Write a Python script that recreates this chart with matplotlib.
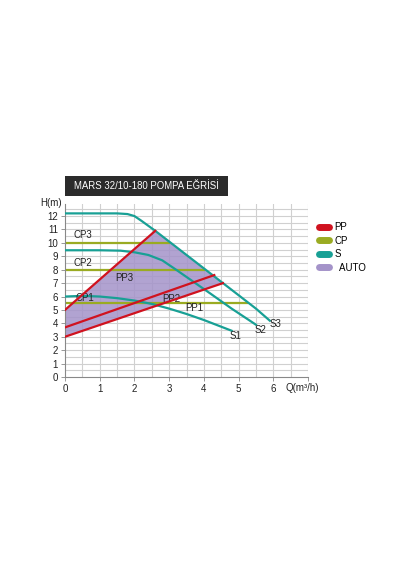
import matplotlib
matplotlib.use("Agg")
import matplotlib.pyplot as plt
from matplotlib.patches import Rectangle, Polygon
from matplotlib.lines import Line2D
import numpy as np

plt.rcParams['font.family'] = ['Liberation Sans', 'DejaVu Sans']

# Data
s3_x = [0, 0.5, 1.0, 1.5, 1.8, 2.0, 2.2, 2.6, 3.0, 3.5, 4.0, 4.55, 5.0, 5.5, 5.9]
s3_y = [12.2, 12.2, 12.2, 12.2, 12.15, 12.0, 11.65, 10.9, 10.1, 9.1, 8.1, 7.0, 6.1, 5.1, 4.2]
s2_x = [0, 1.0, 1.6, 2.0, 2.4, 2.8, 3.2, 3.7, 4.2, 4.8, 5.5]
s2_y = [9.45, 9.45, 9.42, 9.3, 9.1, 8.7, 8.0, 7.1, 6.2, 5.1, 3.9]
s1_x = [0, 0.5, 1.0, 1.5, 2.0, 2.5, 3.0, 3.5, 4.0, 4.8]
s1_y = [6.0, 6.05, 6.0, 5.88, 5.7, 5.45, 5.1, 4.7, 4.25, 3.45]
pp_names = ["PP1", "PP2", "PP3"]
pp_x0 = [0, 0, 0]
pp_y0 = [3.0, 3.7, 5.0]
pp_x1 = [4.55, 4.3, 2.6]
pp_y1 = [7.0, 7.6, 10.9]
cp_names = ["CP1", "CP2", "CP3"]
cp_h = [5.5, 8.0, 10.0]
cp_end = [5.25, 4.0, 3.0]

RED = "#d0121f"
OLIVE = "#9aab22"
TEAL = "#18a095"
PURPLE = "#a493c9"

fig = plt.figure(figsize=(4, 5.7), dpi=100)
ax = fig.add_axes([65/400, 1-377/570, (308-65)/400, (377-204)/570])
ax.set_xlim(0, 7)
ax.set_ylim(0, 12.9)

# grid
for gx in np.arange(0.5, 7.01, 0.5):
    ax.axvline(gx, color="#d0d0d0", lw=0.8, zorder=0)
for gy in np.arange(0.5, 12.9, 0.5):
    ax.axhline(gy, color="#d0d0d0", lw=0.8, zorder=0)

# AUTO polygon
seg = [(x, y) for x, y in zip(s3_x, s3_y) if pp_x1[2] <= x <= pp_x1[0]]
poly = [(pp_x0[0], pp_y0[0]), (pp_x1[0], pp_y1[0])] + seg[::-1] + [(pp_x0[2], pp_y0[2])]
ax.add_patch(Polygon(poly, closed=True, facecolor=PURPLE, edgecolor="none", alpha=0.85, zorder=1))

# CP lines
for h, e in zip(cp_h, cp_end):
    ax.plot([0, e], [h, h], color=OLIVE, lw=1.6, zorder=2)
# S curves
for xs, ys in [(s1_x, s1_y), (s2_x, s2_y), (s3_x, s3_y)]:
    ax.plot(xs, ys, color=TEAL, lw=1.6, zorder=3)
# PP lines
for a, b, c, d in zip(pp_x0, pp_y0, pp_x1, pp_y1):
    ax.plot([a, c], [b, d], color=RED, lw=1.6, zorder=4)

fs = 7
tc = "#222222"
ax.text(0.25, 10.35, "CP3", fontsize=fs, color=tc)
ax.text(0.25, 8.3, "CP2", fontsize=fs, color=tc)
ax.text(0.3, 5.7, "CP1", fontsize=fs, color=tc)
ax.text(1.45, 7.15, "PP3", fontsize=fs, color=tc)
ax.text(2.8, 5.6, "PP2", fontsize=fs, color=tc)
ax.text(3.45, 4.9, "PP1", fontsize=fs, color=tc)
ax.text(4.75, 2.8, "S1", fontsize=fs, color=tc)
ax.text(5.45, 3.3, "S2", fontsize=fs, color=tc)
ax.text(5.9, 3.75, "S3", fontsize=fs, color=tc)

ax.set_xticks(range(0, 8))
ax.set_xticklabels([str(i) for i in range(0, 7)] + [""])
ax.set_yticks(range(0, 13))
ax.tick_params(labelsize=fs, length=3, width=0.6, color="#888888", labelcolor=tc, pad=2)
for s in ["top", "right"]:
    ax.spines[s].set_visible(False)
for s in ["left", "bottom"]:
    ax.spines[s].set_color("#888888")
    ax.spines[s].set_linewidth(0.8)
ax.text(-0.1, 13.0, "H(m)", fontsize=fs, color=tc, ha="right", va="center", clip_on=False)
ax.text(6.35, -0.45, "Q(m³/h)", fontsize=fs, color=tc, ha="left", va="top", clip_on=False)

# title box
fig.patches.append(Rectangle((65/400, 1-196/570), (228-65)/400, 20/570,
                             transform=fig.transFigure, facecolor="#2b2b2b", edgecolor="none"))
fig.text((65+228)/2/400, 1-186/570, "MARS 32/10-180 POMPA EĞRİSİ", color="white",
         fontsize=6.9, ha="center", va="center")

handles = [Line2D([], [], color=c, lw=5, solid_capstyle="round") for c in [RED, OLIVE, TEAL, PURPLE]]
fig.legend(handles, ["PP", "CP", "S", "  AUTO"], loc="upper left", bbox_to_anchor=(0.775, 0.625),
           frameon=False, fontsize=fs, handlelength=1.1, handletextpad=0.5, labelspacing=0.35)

fig.savefig("out.png", dpi=100, facecolor="white")
